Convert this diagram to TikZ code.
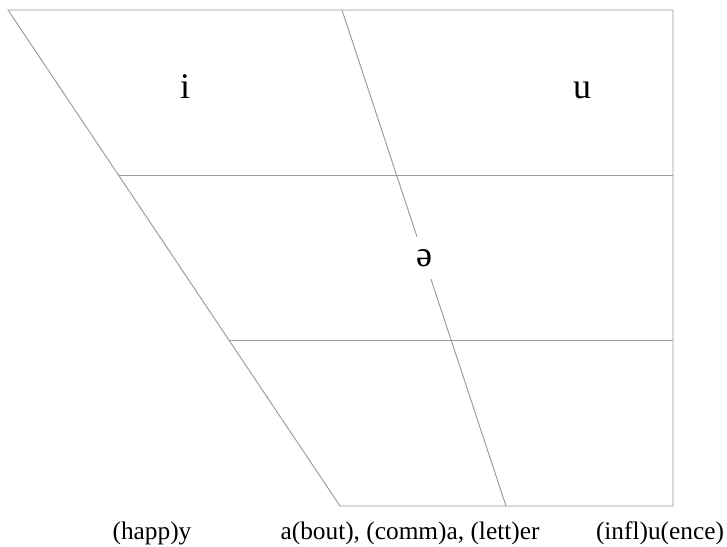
\documentclass[tikz,border=0pt]{standalone}
\usepackage{fontspec}
\setmainfont{Liberation Serif}
\usetikzlibrary{calc}

\begin{document}
\begin{tikzpicture}[x=0.75pt,y=-0.75pt]
\tikzstyle{every node}=[inner sep=0pt]
\tikzstyle{chart}=[draw=gray!80, line width=0.7pt]
\tikzstyle{vowel}=[font=\fontsize{27}{32}\selectfont, anchor=base]
\tikzstyle{word}=[font=\fontsize{19}{23}\selectfont, anchor=base]

\useasboundingbox (0,0) rectangle (727,546);

% corners of the chart
\coordinate (TL) at (8,10);
\coordinate (TM) at (342,10);
\coordinate (TR) at (673,10);
\coordinate (BL) at (340,506);
\coordinate (BM) at (506,506);
\coordinate (BR) at (673,506);

\node[vowel] (I) at (185,98) {i};
\node[vowel] (U) at (582,98) {u};
\node[vowel, anchor=center, minimum height=31.5pt] (Schwa) at ($(TM)!0.5!(BM)$) {ə};

\draw[chart] (TL) -- (TR) -- (BR) -- (BL) -- cycle;
\draw[chart] (TM) -- (Schwa);
\draw[chart] (Schwa) -- (BM);
\draw[chart] ($(TL)!1/3!(BL)$) -- ($(TR)!1/3!(BR)$);
\draw[chart] ($(TL)!2/3!(BL)$) -- ($(TR)!2/3!(BR)$);

% example words
\node[word] (happy) at (152,539) {(happ)y};
\node[word] (about) at (410,539) {a(bout), (comm)a, (lett)er};
\node[word] (influence) at (660,539) {(infl)u(ence)};
\end{tikzpicture}
\end{document}
